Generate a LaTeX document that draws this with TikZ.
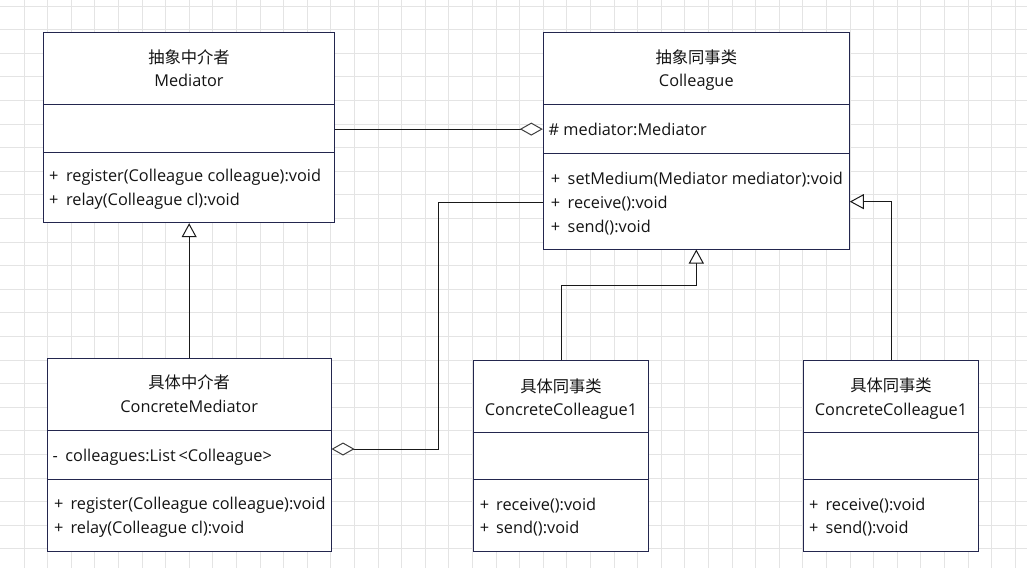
\documentclass[tikz,border=0pt]{standalone}
\usepackage{fontspec}
\setmainfont{Open Sans}
\newfontfamily\cjk{Noto Sans CJK SC}
\usetikzlibrary{arrows.meta}
\definecolor{boxline}{RGB}{35,38,78}
\definecolor{gridc}{RGB}{228,228,228}
\definecolor{txtc}{RGB}{20,20,20}
\begin{document}
\begin{tikzpicture}[x=1pt,y=-1pt,
  cls/.style={draw=boxline, line width=1pt, fill=white, inner sep=0, rectangle},
  sep/.style={draw=boxline, line width=1pt},
  txt/.style={inner sep=0, text height=1.2em, text depth=0.12em, font=\fontsize{16.3}{19}\selectfont, text=txtc},
  ttl/.style={txt, anchor=center},
  mem/.style={txt, anchor=west},
  conn/.style={draw=black!90, line width=1pt},
  agg/.style={conn, -{Diamond[length=23pt,width=13pt,fill=white,color=black!75]}},
  gen/.style={conn, -{Triangle[length=14pt,width=15pt,fill=white]}},
  gridline/.style={draw=gridc, line width=0.9pt}
]
\useasboundingbox (0,0) rectangle (1027,568);
\fill[white] (0,0) rectangle (1027,568);
\foreach \k in {1,...,43} \draw[gridline] ({0.4+23.6*\k},0) -- ({0.4+23.6*\k},568);
\foreach \k in {0,...,23} \draw[gridline] (0,{6+23.6*\k}) -- (1027,{6+23.6*\k});

% Mediator
\node[cls, minimum width=291.4pt, minimum height=190.2pt] (med) at (189,127.6) {};
\draw[sep] (med.west |- 0,104.7) -- (med.east |- 0,104.7);
\draw[sep] (med.west |- 0,152) -- (med.east |- 0,152);
\node[ttl] (medt1) at (189,58.3) {\cjk 抽象中介者};
\node[ttl] (medt2) at (189,81) {Mediator};
\node[mem] (medm1) at (49,176) {+\hspace{7.5pt}register(Colleague colleague):void};
\node[mem] (medm2) at (49,200) {+\hspace{7.5pt}relay(Colleague cl):void};

% Colleague
\node[cls, minimum width=306pt, minimum height=216.7pt] (col) at (696.3,140.65) {};
\draw[sep] (col.west |- 0,104.7) -- (col.east |- 0,104.7);
\draw[sep] (col.west |- 0,153.3) -- (col.east |- 0,153.3);
\node[ttl] (colt1) at (696.3,58.3) {\cjk 抽象同事类};
\node[ttl] (colt2) at (696.3,81) {Colleague};
\node[mem] (cola1) at (548.5,130) {\# mediator:Mediator};
\node[mem] (colm1) at (550.7,179) {+\hspace{7.5pt}setMedium(Mediator mediator):void};
\node[mem] (colm2) at (550.7,203) {+\hspace{7.5pt}receive():void};
\node[mem] (colm3) at (550.7,227) {+\hspace{7.5pt}send():void};

% ConcreteMediator
\node[cls, minimum width=283.7pt, minimum height=193.3pt] (cmed) at (189.15,454.65) {};
\draw[sep] (cmed.west |- 0,430.3) -- (cmed.east |- 0,430.3);
\draw[sep] (cmed.west |- 0,479) -- (cmed.east |- 0,479);
\node[ttl] (cmedt1) at (189.15,383.3) {\cjk 具体中介者};
\node[ttl] (cmedt2) at (189.15,407.3) {ConcreteMediator};
\node[mem] (cmeda1) at (52.5,456) {-\hspace{7.5pt}colleagues:List\,<Colleague>};
\node[mem] (cmedm1) at (54,504.3) {+\hspace{7pt}register(Colleague colleague):void};
\node[mem] (cmedm2) at (54,528.3) {+\hspace{7pt}relay(Colleague cl):void};

% ConcreteColleague1 (middle)
\node[cls, minimum width=175.4pt, minimum height=190.8pt] (cc1) at (561,455.9) {};
\draw[sep] (cc1.west |- 0,432.7) -- (cc1.east |- 0,432.7);
\draw[sep] (cc1.west |- 0,479.3) -- (cc1.east |- 0,479.3);
\node[ttl] (cc1t1) at (561,386.7) {\cjk 具体同事类};
\node[ttl] (cc1t2) at (561,410) {ConcreteColleague1};
\node[mem] (cc1m1) at (479.7,504.7) {+\hspace{7pt}receive():void};
\node[mem] (cc1m2) at (479.7,528) {+\hspace{7pt}send():void};

% ConcreteColleague1 (right)
\node[cls, minimum width=175.4pt, minimum height=191pt] (cc2) at (891,455.8) {};
\draw[sep] (cc2.west |- 0,432.3) -- (cc2.east |- 0,432.3);
\draw[sep] (cc2.west |- 0,479) -- (cc2.east |- 0,479);
\node[ttl] (cc2t1) at (891,385.7) {\cjk 具体同事类};
\node[ttl] (cc2t2) at (891,410) {ConcreteColleague1};
\node[mem] (cc2m1) at (809,504.7) {+\hspace{7pt}receive():void};
\node[mem] (cc2m2) at (809,528) {+\hspace{7pt}send():void};

% connectors
\draw[agg] ([yshift=-1.5pt]med.east) -- ([yshift=-1.5pt]med.east -| col.west);
\draw[gen] (cmed.north) -- (cmed.north |- med.south);
\draw[agg] ([yshift=-61.9pt]col.west) -| (438,449) -- ([yshift=5.65pt]cmed.east);
\draw[gen] (cc1.north) |- (696.3,285.3) -- (col.south);
\draw[gen] (cc2.north) |- ([yshift=-61pt]col.east);
\end{tikzpicture}
\end{document}
